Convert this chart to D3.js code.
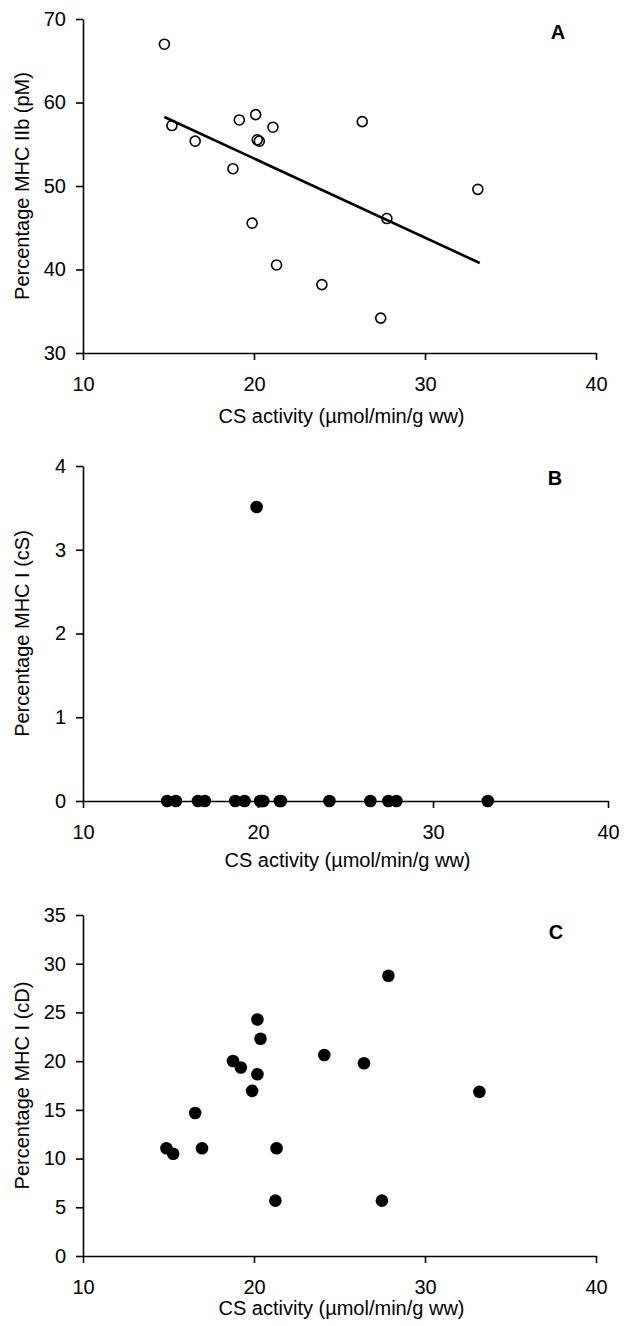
<!DOCTYPE html>
<html>
<head>
<meta charset="utf-8">
<script src="https://cdn.jsdelivr.net/npm/d3@7"></script>
<style>
  html, body { margin: 0; padding: 0; background: #fff; }
  svg { display: block; }
  text { font-family: "Liberation Sans", Arial, sans-serif; fill: #000; }
</style>
</head>
<body>
<svg id="chart" width="627" height="1326"></svg>
<script>
// ---- Data ----
const xTicks = [10, 20, 30, 40];
const xLabel = "CS activity  (µmol/min/g ww)";

// Panel A: MHC IIb (pM)
const csA = [14.76, 15.20, 16.56, 18.77, 19.14, 19.89, 20.10, 20.19, 20.31, 21.11, 21.32, 23.97, 26.33, 27.41, 27.77, 33.09];
const mhcIIbA = [66.98, 57.24, 55.37, 52.07, 57.91, 45.55, 58.55, 55.53, 55.37, 57.04, 40.54, 38.19, 57.71, 34.18, 46.10, 49.60];
const trendX = [14.76, 33.2];
const trendY = [58.27, 40.78];
const yTicksA = [30, 40, 50, 60, 70];

// Panel B: MHC I (cS)
const csB = [14.81, 15.31, 16.57, 16.96, 18.70, 19.23, 19.92, 20.12, 20.20, 20.30, 21.25, 21.31, 24.08, 26.42, 27.45, 27.91, 33.13];
const mhcIcSB = [0, 0, 0, 0, 0, 0, 3.51, 0, 0, 0, 0, 0, 0, 0, 0, 0, 0];
const yTicksB = [0, 1, 2, 3, 4];

// Panel C: MHC I (cD)
const csC = [14.88, 15.27, 16.56, 16.96, 18.77, 19.23, 19.89, 20.20, 20.20, 20.38, 21.25, 21.32, 24.11, 26.43, 27.48, 27.86, 33.18];
const mhcIcDC = [11.06, 10.49, 14.67, 11.06, 20.02, 19.34, 16.95, 24.27, 18.66, 22.30, 5.68, 11.06, 20.63, 19.78, 5.68, 28.77, 16.85];
const yTicksC = [0, 5, 10, 15, 20, 25, 30, 35];

const svg = d3.select("#chart");

function panel(cfg) {
  const x = d3.scaleLinear().domain([10, 40]).range(cfg.xr);
  const y = d3.scaleLinear().domain(cfg.yd).range(cfg.yr);
  const g = svg.append("g");

  const xAxis = g.append("g")
    .attr("transform", `translate(0,${cfg.yr[0]})`)
    .call(d3.axisBottom(x).tickValues(xTicks).tickFormat(d3.format("d"))
      .tickSize(7).tickPadding(17).tickSizeOuter(0));
  const yAxis = g.append("g")
    .attr("transform", `translate(${cfg.xr[0]},0)`)
    .call(d3.axisLeft(y).tickValues(cfg.yt).tickFormat(d3.format("d"))
      .tickSize(7).tickPadding(10).tickSizeOuter(0));
  [xAxis, yAxis].forEach(a => {
    a.select(".domain").attr("stroke", "#000").attr("stroke-width", 1.6);
    a.selectAll(".tick line").attr("stroke", "#000").attr("stroke-width", 1.6);
    a.selectAll(".tick text").attr("font-size", 20)
      .attr("font-family", "Liberation Sans, Arial, sans-serif").attr("fill", "#000");
  });

  // axis titles
  g.append("text")
    .attr("x", (cfg.xr[0] + cfg.xr[1]) / 2 + 2)
    .attr("y", cfg.yr[0] + cfg.titleDy)
    .attr("text-anchor", "middle")
    .attr("font-size", 20)
    .text(xLabel);
  g.append("text")
    .attr("transform", `translate(29,${(cfg.yr[0] + cfg.yr[1]) / 2}) rotate(-90)`)
    .attr("text-anchor", "middle")
    .attr("font-size", 20)
    .text(cfg.ylab);

  // panel letter
  g.append("text")
    .attr("x", cfg.letterX)
    .attr("y", cfg.yr[1] + cfg.letterDy)
    .attr("text-anchor", "middle")
    .attr("font-size", 20)
    .attr("font-weight", "bold")
    .text(cfg.letter);

  if (cfg.trend) {
    g.append("line")
      .attr("x1", x(cfg.trend[0][0])).attr("y1", y(cfg.trend[1][0]))
      .attr("x2", x(cfg.trend[0][1])).attr("y2", y(cfg.trend[1][1]))
      .attr("stroke", "#000").attr("stroke-width", 2.6);
  }

  g.append("g").selectAll("circle")
    .data(cfg.xs.map((v, i) => [v, cfg.ys[i]]))
    .join("circle")
    .attr("cx", d => x(d[0]))
    .attr("cy", d => y(d[1]))
    .attr("r", cfg.hollow ? 5 : 6.3)
    .attr("fill", cfg.hollow ? "none" : "#000")
    .attr("stroke", "#000")
    .attr("stroke-width", cfg.hollow ? 1.6 : 0);
}

panel({ xr: [83, 596], yr: [353, 19], yd: [30, 70], yt: yTicksA, xs: csA, ys: mhcIIbA,
        hollow: true, trend: [trendX, trendY], ylab: "Percentage MHC IIb (pM)",
        letter: "A", letterX: 558, letterDy: 20, titleDy: 70 });
panel({ xr: [83, 608], yr: [801, 466], yd: [0, 4], yt: yTicksB, xs: csB, ys: mhcIcSB,
        hollow: false, ylab: "Percentage MHC I  (cS)",
        letter: "B", letterX: 555, letterDy: 19, titleDy: 66 });
panel({ xr: [83, 596], yr: [1256, 915], yd: [0, 35], yt: yTicksC, xs: csC, ys: mhcIcDC,
        hollow: false, ylab: "Percentage MHC I  (cD)",
        letter: "C", letterX: 556, letterDy: 24, titleDy: 59 });
</script>
</body>
</html>
